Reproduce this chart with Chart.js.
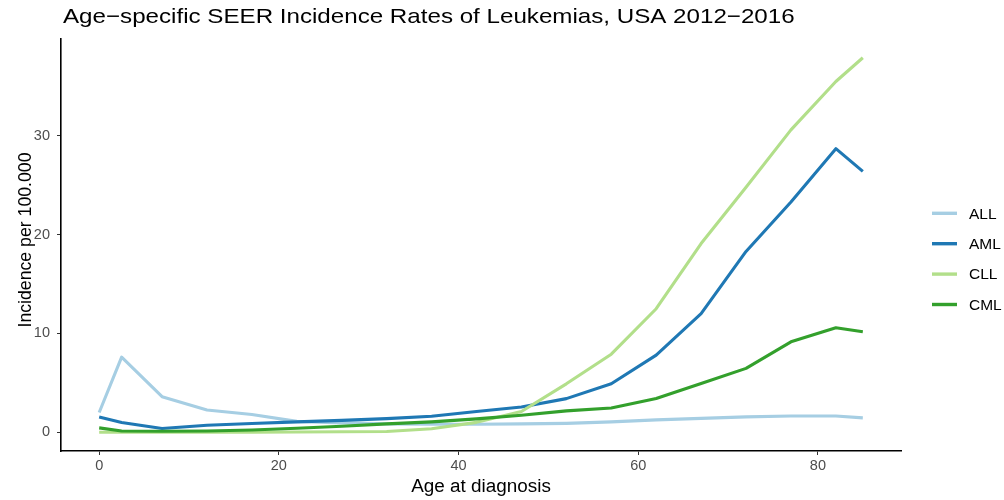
<!DOCTYPE html>
<html>
<head>
<meta charset="utf-8">
<script src="https://cdn.jsdelivr.net/npm/chart.js@4.4.1/dist/chart.umd.min.js"></script>
<style>
  html, body { margin: 0; padding: 0; background: #ffffff; }
  #wrap { width: 1004px; height: 500px; position: relative; }
</style>
</head>
<body>
<div id="wrap"><canvas id="chart"></canvas></div>
<script>
// Age group midpoints (years)
const ages = [0, 2.5, 7, 12, 17, 22, 27, 32, 37, 42, 47, 52, 57, 62, 67, 72, 77, 82, 85];

// Incidence per 100,000 by leukemia type
const ALL = [2.0, 7.6, 3.6, 2.25, 1.8, 1.1, 0.95, 0.85, 0.8, 0.8, 0.85, 0.9, 1.05, 1.25, 1.4, 1.55, 1.65, 1.65, 1.45];
const AML = [1.55, 0.98, 0.37, 0.7, 0.88, 1.05, 1.2, 1.38, 1.62, 2.1, 2.55, 3.4, 4.9, 7.8, 12.0, 18.3, 23.3, 28.7, 26.4];
const CLL = [0.0, 0.0, 0.0, 0.0, 0.0, 0.02, 0.05, 0.08, 0.35, 1.0, 2.1, 4.9, 7.9, 12.5, 19.1, 24.8, 30.6, 35.5, 37.9];
const CML = [0.44, 0.13, 0.1, 0.12, 0.22, 0.4, 0.6, 0.85, 1.05, 1.35, 1.72, 2.16, 2.46, 3.41, 4.93, 6.46, 9.15, 10.57, 10.17];

const seriesNames = ['ALL', 'AML', 'CLL', 'CML'];
const seriesColors = ['#A6CEE3', '#1F78B4', '#B2DF8A', '#33A02C'];

const xTicks = [0, 20, 40, 60, 80];
const yTicks = [0, 10, 20, 30];

const titleText = 'Age\u2212specific SEER Incidence Rates of Leukemias, USA 2012\u22122016';
const xTitle = 'Age at diagnosis';
const yTitle = 'Incidence per 100.000';

const FONT = '"Liberation Sans", Arial, Helvetica, sans-serif';

function toPoints(vals) {
  return ages.map((a, i) => ({ x: a, y: vals[i] }));
}

const seriesValues = [ALL, AML, CLL, CML];
const datasets = seriesNames.map((name, i) => ({
  label: name,
  data: toPoints(seriesValues[i]),
  borderColor: seriesColors[i],
  backgroundColor: seriesColors[i],
  borderWidth: 3.1,
  pointRadius: 0,
  pointHoverRadius: 0,
  tension: 0,
  fill: false,
  borderJoinStyle: 'round',
  borderCapStyle: 'butt',
  // later series are painted over earlier ones
  order: seriesNames.length - i
}));

// draw text with an optional horizontal stretch
function wideText(ctx, text, x, y, sx) {
  ctx.save();
  ctx.translate(x, y);
  ctx.scale(sx, 1);
  ctx.fillText(text, 0, 0);
  ctx.restore();
}

// Title, axis titles and the legend panel on the right
const decorations = {
  id: 'decorations',
  afterDraw(chart) {
    const ctx = chart.ctx;
    const area = chart.chartArea;
    ctx.save();
    ctx.fillStyle = '#000000';

    // plot title
    ctx.font = '21px ' + FONT;
    ctx.textAlign = 'left';
    ctx.textBaseline = 'alphabetic';
    wideText(ctx, titleText, 63, 23, 1.15);

    // x axis title
    ctx.font = '18px ' + FONT;
    ctx.textAlign = 'center';
    wideText(ctx, xTitle, (area.left + area.right) / 2, 492, 1.05);

    // y axis title
    ctx.save();
    ctx.translate(31, 240);
    ctx.rotate(-Math.PI / 2);
    ctx.font = '17.7px ' + FONT;
    ctx.textAlign = 'center';
    ctx.textBaseline = 'alphabetic';
    ctx.fillText(yTitle, 0, 0);
    ctx.restore();

    // legend
    const keyX0 = 932, keyX1 = 957, labelX = 969;
    const rowY0 = 213.3, rowStep = 30.4;
    ctx.font = '15.5px ' + FONT;
    ctx.textAlign = 'left';
    ctx.textBaseline = 'middle';
    chart.data.datasets.forEach((ds, i) => {
      const y = rowY0 + i * rowStep;
      ctx.strokeStyle = ds.borderColor;
      ctx.lineWidth = 3.4;
      ctx.lineCap = 'butt';
      ctx.beginPath();
      ctx.moveTo(keyX0, y);
      ctx.lineTo(keyX1, y);
      ctx.stroke();
      ctx.fillStyle = '#000000';
      ctx.fillText(ds.label, labelX, y + 1);
    });
    ctx.restore();
  }
};

new Chart(document.getElementById('chart'), {
  type: 'line',
  data: { datasets },
  options: {
    responsive: true,
    maintainAspectRatio: false,
    animation: false,
    events: [],
    layout: { padding: { top: 39, right: 103, left: 0, bottom: 0 } },
    plugins: {
      legend: { display: false },
      title: { display: false },
      tooltip: { enabled: false }
    },
    scales: {
      x: {
        type: 'linear',
        min: -4.25,
        max: 89.25,
        afterBuildTicks: (scale) => { scale.ticks = xTicks.map(v => ({ value: v })); },
        afterFit: (scale) => { scale.height = 49; },
        ticks: {
          color: '#4D4D4D',
          font: { family: FONT, size: 14.5 },
          padding: 2,
          maxRotation: 0,
          autoSkip: false
        },
        grid: {
          display: true,
          drawOnChartArea: false,
          drawTicks: true,
          tickLength: 4,
          tickColor: '#333333',
          tickWidth: 1
        },
        border: { display: true, color: '#000000', width: 1.6 }
      },
      y: {
        type: 'linear',
        min: -1.9,
        max: 39.8,
        afterBuildTicks: (scale) => { scale.ticks = yTicks.map(v => ({ value: v })); },
        afterFit: (scale) => { scale.width = 61; },
        ticks: {
          color: '#4D4D4D',
          font: { family: FONT, size: 14.5 },
          padding: 7,
          autoSkip: false
        },
        grid: {
          display: true,
          drawOnChartArea: false,
          drawTicks: true,
          tickLength: 4,
          tickColor: '#333333',
          tickWidth: 1
        },
        border: { display: true, color: '#000000', width: 1.6 }
      }
    }
  },
  plugins: [decorations]
});
</script>
</body>
</html>
